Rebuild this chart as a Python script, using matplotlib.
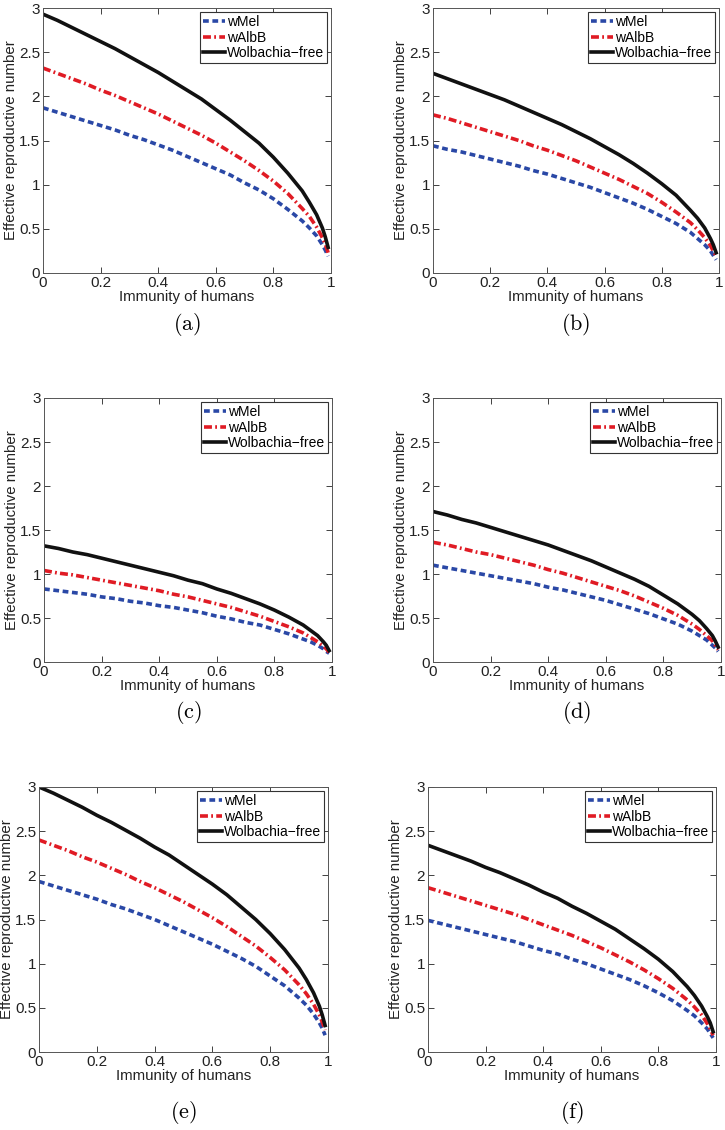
import numpy as np
import matplotlib.pyplot as plt

plt.rcParams['font.family'] = ['Liberation Sans', 'DejaVu Sans']
plt.rcParams['mathtext.fontset'] = 'cm'

immunity = [0, 0.05, 0.1, 0.15, 0.2, 0.25, 0.3, 0.35, 0.4, 0.45, 0.5, 0.55,
            0.6, 0.65, 0.7, 0.75, 0.8, 0.85, 0.9, 0.925, 0.95, 0.97, 0.98, 0.99]

# effective reproductive number, one list per panel and strain
wmel_a = [1.87, 1.82, 1.77, 1.72, 1.67, 1.62, 1.56, 1.51, 1.45, 1.39, 1.32, 1.25,
          1.18, 1.11, 1.02, 0.94, 0.84, 0.72, 0.59, 0.51, 0.42, 0.32, 0.26, 0.19]
walbb_a = [2.32, 2.26, 2.20, 2.14, 2.07, 2.01, 1.94, 1.87, 1.80, 1.72, 1.64, 1.56,
           1.47, 1.37, 1.27, 1.16, 1.04, 0.90, 0.73, 0.64, 0.52, 0.40, 0.33, 0.23]
free_a = [2.93, 2.86, 2.78, 2.70, 2.62, 2.54, 2.45, 2.36, 2.27, 2.17, 2.07, 1.97,
          1.85, 1.73, 1.60, 1.47, 1.31, 1.13, 0.93, 0.80, 0.66, 0.51, 0.41, 0.29]

wmel_b = [1.44, 1.40, 1.37, 1.33, 1.29, 1.25, 1.21, 1.16, 1.12, 1.07, 1.02, 0.97,
          0.91, 0.85, 0.79, 0.72, 0.64, 0.56, 0.46, 0.39, 0.32, 0.25, 0.20, 0.15]
walbb_b = [1.79, 1.75, 1.70, 1.65, 1.60, 1.55, 1.50, 1.44, 1.39, 1.33, 1.27, 1.20,
           1.13, 1.06, 0.98, 0.90, 0.80, 0.69, 0.57, 0.49, 0.40, 0.31, 0.25, 0.19]
free_b = [2.26, 2.20, 2.14, 2.08, 2.02, 1.96, 1.89, 1.82, 1.75, 1.68, 1.60, 1.52,
          1.43, 1.34, 1.24, 1.13, 1.01, 0.88, 0.71, 0.62, 0.51, 0.39, 0.32, 0.23]

wmel_c = [0.83, 0.81, 0.79, 0.77, 0.74, 0.72, 0.69, 0.67, 0.64, 0.62, 0.59, 0.56,
          0.52, 0.49, 0.45, 0.42, 0.37, 0.32, 0.26, 0.23, 0.19, 0.15, 0.12, 0.10]
walbb_c = [1.04, 1.01, 0.99, 0.96, 0.93, 0.90, 0.87, 0.84, 0.81, 0.77, 0.74, 0.70,
           0.66, 0.62, 0.57, 0.52, 0.46, 0.40, 0.33, 0.28, 0.23, 0.18, 0.15, 0.11]
free_c = [1.32, 1.29, 1.25, 1.22, 1.18, 1.14, 1.10, 1.06, 1.02, 0.98, 0.93, 0.89,
          0.83, 0.78, 0.72, 0.66, 0.59, 0.51, 0.42, 0.36, 0.30, 0.23, 0.19, 0.13]

wmel_d = [1.10, 1.07, 1.04, 1.01, 0.98, 0.95, 0.92, 0.89, 0.85, 0.82, 0.78, 0.74,
          0.70, 0.65, 0.60, 0.55, 0.49, 0.43, 0.35, 0.30, 0.25, 0.19, 0.16, 0.12]
walbb_d = [1.36, 1.33, 1.29, 1.25, 1.22, 1.18, 1.14, 1.10, 1.05, 1.01, 0.96, 0.91,
           0.86, 0.81, 0.75, 0.68, 0.61, 0.53, 0.43, 0.37, 0.30, 0.24, 0.19, 0.14]
free_d = [1.71, 1.67, 1.62, 1.58, 1.53, 1.48, 1.43, 1.38, 1.33, 1.27, 1.21, 1.15,
          1.08, 1.01, 0.94, 0.86, 0.76, 0.66, 0.54, 0.47, 0.38, 0.30, 0.24, 0.17]

wmel_e = [1.93, 1.88, 1.83, 1.78, 1.73, 1.67, 1.62, 1.56, 1.50, 1.43, 1.36, 1.29,
          1.22, 1.14, 1.06, 0.97, 0.86, 0.75, 0.61, 0.53, 0.43, 0.33, 0.27, 0.19]
walbb_e = [2.40, 2.34, 2.28, 2.21, 2.15, 2.08, 2.01, 1.93, 1.86, 1.78, 1.70, 1.61,
           1.52, 1.42, 1.31, 1.20, 1.07, 0.93, 0.76, 0.66, 0.54, 0.42, 0.34, 0.25]
free_e = [3.00, 2.93, 2.85, 2.77, 2.68, 2.60, 2.51, 2.42, 2.32, 2.23, 2.12, 2.01,
          1.90, 1.78, 1.64, 1.50, 1.34, 1.16, 0.95, 0.82, 0.67, 0.52, 0.42, 0.30]

wmel_f = [1.49, 1.45, 1.41, 1.37, 1.33, 1.29, 1.25, 1.20, 1.15, 1.11, 1.05, 1.00,
          0.94, 0.88, 0.82, 0.75, 0.67, 0.58, 0.47, 0.41, 0.33, 0.26, 0.21, 0.16]
walbb_f = [1.86, 1.81, 1.76, 1.71, 1.66, 1.61, 1.56, 1.50, 1.44, 1.38, 1.32, 1.25,
           1.18, 1.10, 1.02, 0.93, 0.83, 0.72, 0.59, 0.51, 0.42, 0.32, 0.26, 0.19]
free_f = [2.34, 2.28, 2.22, 2.16, 2.09, 2.03, 1.96, 1.89, 1.81, 1.74, 1.65, 1.57,
          1.48, 1.39, 1.28, 1.17, 1.05, 0.91, 0.74, 0.64, 0.52, 0.40, 0.33, 0.23]

panels = [
    ("(a)", wmel_a, walbb_a, free_a),
    ("(b)", wmel_b, walbb_b, free_b),
    ("(c)", wmel_c, walbb_c, free_c),
    ("(d)", wmel_d, walbb_d, free_d),
    ("(e)", wmel_e, walbb_e, free_e),
    ("(f)", wmel_f, walbb_f, free_f),
]

W, H = 725, 1130
# axes boxes in pixels: left, top, width, height ; caption y
boxes = [(43, 8, 288, 265, 325), (433, 8, 286, 265, 325),
         (44, 398, 288, 264, 712), (433, 398, 288, 264, 712),
         (39, 787, 289, 265, 1113), (428, 787, 288, 265, 1113)]

fig = plt.figure(figsize=(W / 100, H / 100), dpi=100)

for (label, wmel, walbb, free), (left, top, w, h, cap_y) in zip(panels, boxes):
    ax = fig.add_axes([left / W, 1 - (top + h) / H, w / W, h / H])
    ax.plot(immunity, wmel, linestyle=(0, (1.6, 1.0)), color="#2a48a6", lw=2.6,
            label="wMel", solid_joinstyle="round", dash_joinstyle="round")
    ax.plot(immunity, walbb, linestyle=(0, (2.2, 0.9, 0.5, 0.9)), color="#e01b24", lw=2.6,
            label="wAlbB", solid_joinstyle="round", dash_joinstyle="round")
    ax.plot(immunity, free, "-", color="#111111", lw=2.6,
            label="Wolbachia\u2212free", solid_joinstyle="round")

    ax.set_xlim(0, 1)
    ax.set_ylim(0, 3)
    ax.set_xticks(np.arange(0, 1.01, 0.2))
    ax.set_xticklabels(["0", "0.2", "0.4", "0.6", "0.8", "1"])
    ax.set_yticks(np.arange(0, 3.01, 0.5))
    ax.set_yticklabels(["0", "0.5", "1", "1.5", "2", "2.5", "3"])
    ax.tick_params(direction="in", top=True, right=True, length=4, width=0.6,
                   labelsize=11, colors="#222222", pad=2)
    for s in ax.spines.values():
        s.set_color("#555555")
        s.set_linewidth(0.7)
    ax.set_xlabel("Immunity of humans", fontsize=10.8, color="#222222", labelpad=0)
    ax.set_ylabel("Effective reproductive number", fontsize=10.8, color="#222222", labelpad=1)

    leg = ax.legend(loc="upper right", fontsize=10, fancybox=False, framealpha=1,
                    edgecolor="#333333", handlelength=1.6, handletextpad=0.15,
                    borderpad=0.2, labelspacing=0.12, borderaxespad=0.3)
    leg.get_frame().set_linewidth(0.8)

    fig.text((left + w / 2) / W, 1 - cap_y / H, r"$\mathrm{" + label + "}$",
             ha="center", va="center", fontsize=16)

fig.savefig("out.png", dpi=100)
